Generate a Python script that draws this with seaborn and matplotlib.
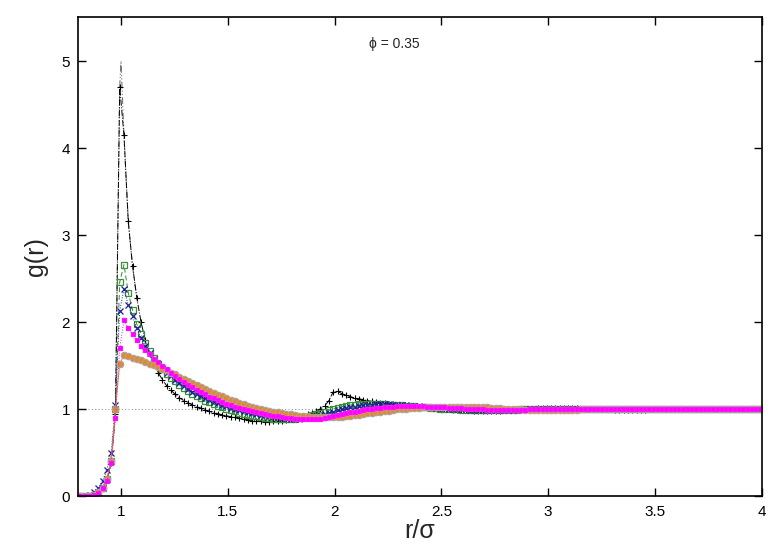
import matplotlib
matplotlib.use("Agg")
import matplotlib.pyplot as plt
import numpy as np
import seaborn as sns
from matplotlib.ticker import FormatStrFormatter

# radial grid of the simulation bins (0.794 .. 3.994, step 0.02)
r = np.round(0.794 + 0.02 * np.arange(161), 3)

g_black = [
    0.0, 0.0, 0.002, 0.008, 0.02, 0.05, 0.10, 0.19, 0.38, 0.95,
    4.7, 4.15, 3.16, 2.65, 2.28, 2.0, 1.79, 1.64, 1.52, 1.42,
    1.34, 1.27, 1.22, 1.17, 1.13, 1.10, 1.07, 1.05, 1.03, 1.01,
    0.99, 0.975, 0.96, 0.95, 0.935, 0.925, 0.915, 0.905, 0.895, 0.885,
    0.878, 0.87, 0.865, 0.86, 0.857, 0.857, 0.86, 0.864, 0.87, 0.878,
    0.887, 0.898, 0.91, 0.924, 0.94, 0.958, 0.98, 1.005, 1.04, 1.10,
    1.20, 1.205, 1.18, 1.16, 1.145, 1.13, 1.12, 1.11, 1.10, 1.09,
    1.08, 1.075, 1.068, 1.062, 1.056, 1.05, 1.045, 1.04, 1.035, 1.03,
    1.026, 1.022, 1.018, 1.014, 1.01, 1.006, 1.002, 0.998, 0.995, 0.992,
    0.99, 0.988, 0.986, 0.985, 0.984, 0.983, 0.983, 0.983, 0.984, 0.985,
    0.986, 0.988, 0.99, 0.993, 0.996, 1.0, 1.004, 1.008, 1.012, 1.015,
    1.017, 1.018, 1.018, 1.017, 1.016, 1.014, 1.012, 1.01, 1.008, 1.006,
    1.004, 1.002, 1.0, 0.999, 0.998, 0.997, 0.996, 0.996, 0.995, 0.995,
    0.995, 0.995, 0.996, 0.996, 0.997, 0.998, 0.999, 1.0, 1.0, 1.001,
    1.001, 1.002, 1.002, 1.002, 1.001, 1.001, 1.001, 1.0, 1.0, 1.0,
    1.0, 1.0, 1.0, 1.0, 1.0, 1.0, 1.0, 1.0, 1.0, 1.0,
    1.0,
]

g_green = [
    0.0, 0.0, 0.002, 0.008, 0.02, 0.05, 0.10, 0.2, 0.4, 1.0,
    2.46, 2.66, 2.34, 2.14, 1.98, 1.86, 1.76, 1.67, 1.59, 1.52,
    1.46, 1.41, 1.36, 1.32, 1.28, 1.245, 1.21, 1.18, 1.15, 1.125,
    1.10, 1.08, 1.06, 1.04, 1.02, 1.005, 0.99, 0.975, 0.96, 0.948,
    0.937, 0.927, 0.918, 0.91, 0.903, 0.897, 0.892, 0.888, 0.886, 0.886,
    0.888, 0.892, 0.898, 0.906, 0.916, 0.928, 0.942, 0.957, 0.972, 0.988,
    1.003, 1.017, 1.03, 1.04, 1.048, 1.054, 1.058, 1.061, 1.062, 1.062,
    1.061, 1.059, 1.057, 1.054, 1.051, 1.048, 1.044, 1.04, 1.036, 1.032,
    1.028, 1.024, 1.02, 1.016, 1.012, 1.008, 1.005, 1.002, 0.999, 0.997,
    0.995, 0.993, 0.992, 0.991, 0.99, 0.99, 0.99, 0.99, 0.991, 0.992,
    0.993, 0.994, 0.995, 0.996, 0.997, 0.998, 0.999, 1.0, 1.001, 1.002,
    1.003, 1.003, 1.004, 1.004, 1.004, 1.003, 1.003, 1.002, 1.002, 1.001,
    1.0, 1.0, 0.999, 0.999, 0.998, 0.998, 0.998, 0.998, 0.999, 0.999,
    1.0, 1.0, 1.0, 1.0, 1.001, 1.001, 1.001, 1.001, 1.0, 1.0,
    1.0, 1.0, 1.0, 1.0, 1.0, 1.0, 1.0, 1.0, 1.0, 1.0,
    1.0, 1.0, 1.0, 1.0, 1.0, 1.0, 1.0, 1.0, 1.0, 1.0,
    1.0,
]

g_blue = [
    0.0, 0.002, 0.008, 0.02, 0.05, 0.1, 0.18, 0.3, 0.5, 1.05,
    2.13, 2.38, 2.2, 2.07, 1.93, 1.82, 1.73, 1.65, 1.58, 1.52,
    1.47, 1.42, 1.38, 1.34, 1.30, 1.265, 1.23, 1.20, 1.175, 1.15,
    1.128, 1.106, 1.086, 1.067, 1.05, 1.034, 1.019, 1.005, 0.992, 0.98,
    0.968, 0.957, 0.947, 0.937, 0.928, 0.92, 0.912, 0.905, 0.899, 0.894,
    0.891, 0.89, 0.891, 0.894, 0.9, 0.908, 0.918, 0.93, 0.944, 0.958,
    0.972, 0.986, 0.999, 1.011, 1.022, 1.031, 1.039, 1.045, 1.05, 1.053,
    1.055, 1.056, 1.056, 1.055, 1.053, 1.051, 1.048, 1.045, 1.041, 1.037,
    1.033, 1.029, 1.025, 1.021, 1.017, 1.013, 1.01, 1.007, 1.004, 1.001,
    0.999, 0.997, 0.995, 0.994, 0.993, 0.992, 0.992, 0.992, 0.992, 0.993,
    0.994, 0.995, 0.996, 0.997, 0.998, 0.999, 1.0, 1.001, 1.002, 1.002,
    1.003, 1.003, 1.003, 1.003, 1.003, 1.002, 1.002, 1.001, 1.001, 1.0,
    1.0, 0.999, 0.999, 0.999, 0.998, 0.998, 0.999, 0.999, 0.999, 1.0,
    1.0, 1.0, 1.0, 1.0, 1.0, 1.0, 1.0, 1.0, 1.0, 1.0,
    1.0, 1.0, 1.0, 1.0, 1.0, 1.0, 1.0, 1.0, 1.0, 1.0,
    1.0, 1.0, 1.0, 1.0, 1.0, 1.0, 1.0, 1.0, 1.0, 1.0,
    1.0,
]

g_magenta = [
    0.0, 0.0, 0.002, 0.006, 0.015, 0.04, 0.09, 0.18, 0.38, 0.9,
    1.70, 2.02, 1.93, 1.86, 1.79, 1.73, 1.68, 1.63, 1.58, 1.54,
    1.50, 1.46, 1.42, 1.38, 1.345, 1.31, 1.28, 1.25, 1.22, 1.195,
    1.17, 1.146, 1.124, 1.103, 1.083, 1.064, 1.047, 1.031, 1.016, 1.002,
    0.989, 0.977, 0.966, 0.955, 0.945, 0.936, 0.927, 0.919, 0.911, 0.904,
    0.898, 0.893, 0.889, 0.886, 0.885, 0.885, 0.888, 0.893, 0.9, 0.909,
    0.919, 0.93, 0.941, 0.952, 0.963, 0.973, 0.983, 0.992, 1.0, 1.007,
    1.013, 1.018, 1.023, 1.027, 1.03, 1.032, 1.034, 1.035, 1.035, 1.035,
    1.034, 1.033, 1.031, 1.029, 1.027, 1.025, 1.022, 1.019, 1.016, 1.013,
    1.01, 1.007, 1.004, 1.002, 1.0, 0.998, 0.996, 0.995, 0.994, 0.993,
    0.993, 0.993, 0.993, 0.994, 0.995, 0.996, 0.997, 0.998, 0.999, 1.0,
    1.001, 1.001, 1.002, 1.002, 1.002, 1.002, 1.001, 1.001, 1.0, 1.0,
    1.0, 1.0, 1.0, 1.0, 1.0, 1.0, 1.0, 1.0, 1.0, 1.0,
    1.0, 1.0, 1.0, 1.0, 1.0, 1.0, 1.0, 1.0, 1.0, 1.0,
    1.0, 1.0, 1.0, 1.0, 1.0, 1.0, 1.0, 1.0, 1.0, 1.0,
    1.0, 1.0, 1.0, 1.0, 1.0, 1.0, 1.0, 1.0, 1.0, 1.0,
    1.0,
]

g_orange = [
    0.0, 0.0, 0.002, 0.007, 0.018, 0.045, 0.10, 0.2, 0.4, 1.0,
    1.52, 1.62, 1.61, 1.59, 1.575, 1.56, 1.545, 1.525, 1.505, 1.485,
    1.465, 1.445, 1.42, 1.40, 1.375, 1.35, 1.327, 1.303, 1.28, 1.257,
    1.234, 1.211, 1.189, 1.168, 1.147, 1.127, 1.108, 1.09, 1.073, 1.057,
    1.042, 1.028, 1.015, 1.003, 0.992, 0.982, 0.972, 0.963, 0.955, 0.947,
    0.94, 0.933, 0.927, 0.922, 0.918, 0.914, 0.912, 0.91, 0.909, 0.909,
    0.91, 0.912, 0.915, 0.919, 0.924, 0.93, 0.937, 0.944, 0.951, 0.958,
    0.965, 0.972, 0.979, 0.985, 0.991, 0.997, 1.002, 1.007, 1.011, 1.015,
    1.018, 1.021, 1.024, 1.026, 1.028, 1.029, 1.03, 1.031, 1.031, 1.031,
    1.03, 1.029, 1.028, 1.026, 1.024, 1.022, 1.02, 1.017, 1.014, 1.011,
    1.008, 1.005, 1.002, 1.0, 0.998, 0.996, 0.994, 0.993, 0.992, 0.991,
    0.991, 0.991, 0.991, 0.992, 0.993, 0.994, 0.995, 0.996, 0.997, 0.998,
    0.999, 1.0, 1.001, 1.001, 1.002, 1.002, 1.002, 1.002, 1.001, 1.001,
    1.0, 1.0, 1.0, 1.0, 1.0, 1.0, 1.0, 1.0, 1.0, 1.0,
    1.0, 1.0, 1.0, 1.0, 1.0, 1.0, 1.0, 1.0, 1.0, 1.0,
    1.0, 1.0, 1.0, 1.0, 1.0, 1.0, 1.0, 1.0, 1.0, 1.0,
    1.0,
]

# contact peak of the black curve (theory line)
peak_r = [0.974, 0.994, 1.0, 1.014, 1.034, 1.054, 1.074]
peak_g = [0.95, 4.7, 5.0, 4.15, 3.16, 2.65, 2.28]

xticks = [1, 1.5, 2, 2.5, 3, 3.5, 4]
yticks = [0, 1, 2, 3, 4, 5]

for s in (g_black, g_green, g_blue, g_magenta, g_orange):
    assert len(s) == len(r)

sns.set_style("ticks")
plt.rcParams["font.family"] = ["Liberation Sans", "DejaVu Sans"]

fig = plt.figure(figsize=(7.78, 5.45), dpi=100)
ax = fig.add_axes([0.1006, 0.0894, 0.8784, 0.8785])

ax.axhline(1.0, color="#999999", ls=(0, (1, 2)), lw=0.8, zorder=0)

sns.lineplot(x=peak_r, y=peak_g, ax=ax, color="#777777", lw=0.8,
             linestyle=(0, (6, 2, 1, 2, 1, 2)), estimator=None, sort=False)

styles = [
    (g_black, "black", "-.", "+", dict(markersize=5, mew=0.8, mec="black")),
    (g_green, "#2e8b2e", (0, (5, 3)), "s", dict(markersize=5, mew=0.9, mec="#3d8f3d", mfc="none")),
    (g_blue, "#1c1c9c", ":", "x", dict(markersize=4.5, mew=0.9, mec="#1c1c9c")),
    (g_orange, "#e08a30", "-", "o", dict(markersize=4.8, mew=0.7, mec="#a8a8a8")),
    (g_magenta, "#ff00ff", ":", "s", dict(markersize=3.6, mew=0.2, mec="#ff66ff")),
]
for vals, col, ls, mk, mkw in styles:
    sns.lineplot(x=r, y=vals, ax=ax, color=col, linestyle=ls, lw=0.7,
                 marker=mk, estimator=None, **mkw)

ax.set_xlim(0.8, 4.0)
ax.set_ylim(0, 5.5)
ax.set_xticks(xticks)
ax.set_yticks(yticks)
ax.xaxis.set_major_formatter(FormatStrFormatter("%g"))
ax.tick_params(direction="in", top=True, right=True, length=6, width=1,
               labelsize=11, colors="black", pad=6)
for sp in ax.spines.values():
    sp.set_linewidth(1.2)
    sp.set_color("black")

ax.set_xlabel("r/σ", fontsize=18, labelpad=0)
ax.set_ylabel("g(r)", fontsize=18, labelpad=10)
ax.text(0.463, 0.945, "ϕ = 0.35", transform=ax.transAxes, ha="center",
        va="center", fontsize=10)

fig.savefig("out.png", dpi=100)
